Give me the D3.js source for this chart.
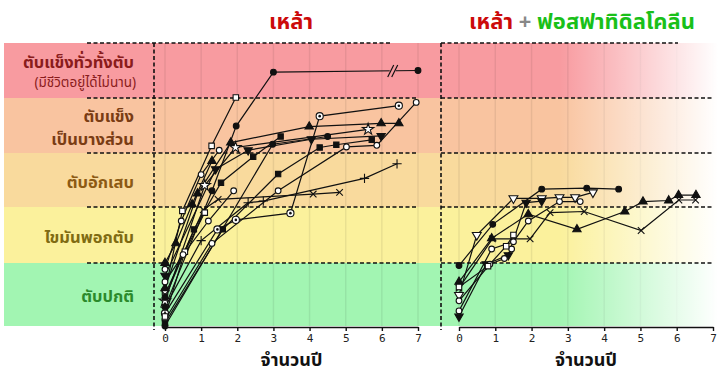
<!DOCTYPE html>
<html>
<head>
<meta charset="utf-8">
<script src="https://cdn.jsdelivr.net/npm/d3@7"></script>
<style>
  body { margin: 0; background: #fff; }
  svg { display: block; font-family: "Noto Sans Thai", "Noto Sans Thai Looped", "Sarabun", "Loma", "Garuda", "Noto Sans", sans-serif; }
</style>
</head>
<body>
<svg id="chart" width="720" height="376"></svg>
<script>
// stages, bottom to top
const stageLines = [["ตับปกติ"], ["ไขมันพอกตับ"], ["ตับอักเสบ"], ["ตับแข็ง", "เป็นบางส่วน"], ["ตับแข็งทั่วทั้งตับ"]];
const stageNotes = ["", "", "", "", "(มีชีวิตอยู่ได้ไม่นาน)"];
const stageColors = ["#a2f5b2", "#fbf19c", "#f9da9d", "#f9c4a0", "#f89ba0"];
const labelColors = ["#2b8a2b", "#7f6b12", "#8c5a14", "#7a3c14", "#8a1c1c"];
const years = [0, 1, 2, 3, 4, 5, 6, 7];

const titleLeft = "เหล้า";
const titleRight = ["เหล้า", " + ", "ฟอสฟาทิดิลโคลีน"];
const xTitle = "จำนวนปี";

// [year, stage level] — left: alcohol only
const l1 = [[0, 0.3], [1.3, 2.3], [1.97, 3.49], [3.0, 4.47], [7.0, 4.5]];
const l2 = [[0, 0.55], [0.48, 1.93], [1.29, 3.13], [1.96, 4.01]];
const l3 = [[0, 0.2], [1.45, 1.6], [1.96, 1.77], [3.47, 1.89], [4.28, 3.67], [6.47, 3.86]];
const l4 = [[0, 0.1], [1.3, 1.35], [3.13, 2.3], [5.02, 3.11], [5.86, 3.14], [6.95, 3.92]];
const l5 = [[0, 0.6], [0.9, 2.25], [1.82, 3.19], [3.99, 3.48], [5.98, 3.54], [6.47, 3.54]];
const l6 = [[0, 0.4], [1.1, 2.4], [1.95, 3.1], [5.62, 3.43]];
const l7 = [[0, 0.8], [1.4, 2.7], [2.3, 3.05], [4.05, 3.25], [5.98, 3.31]];
const l8 = [[0, 0.05], [1.6, 1.6], [3.13, 2.61], [4.28, 3.1], [4.74, 3.15], [5.72, 3.24]];
const l9 = [[0, 0.5], [1.06, 1.95], [1.47, 2.14], [4.1, 2.24], [4.83, 2.27]];
const l10 = [[0, 0.3], [1.0, 1.4], [2.3, 2.08], [2.72, 2.11], [5.52, 2.53], [6.42, 2.8]];
const l11 = [[0, 0], [2.98, 3.16], [4.5, 3.3]];
const l12 = [[0, 0.9], [0.45, 1.75], [1.0, 2.6], [1.5, 3.05]];
const l13 = [[0, 0.45], [0.8, 1.6], [1.55, 2.45], [2.44, 2.93], [3.2, 3.3]];
const l14 = [[0, 0.15], [0.55, 1.2], [1.1, 1.9]];
const l15 = [[0, 1.0], [0.3, 1.35], [0.75, 2.05], [1.3, 2.85]];
const l16 = [[0, 0.7], [0.5, 1.15], [1.2, 1.75], [1.9, 2.3]];
const breakPoint = [6.3, 4.49];

// right: alcohol + phosphatidylcholine
const r1 = [[0, 0.96], [0.93, 1.69], [2.28, 2.33], [3.52, 2.35], [4.4, 2.33]];
const r2 = [[0, 0.49], [0.49, 1.5], [1.5, 2.16], [2.28, 2.16], [2.77, 2.18], [3.2, 2.18], [3.69, 2.27]];
const r3 = [[0, 0.7], [0.9, 1.44], [1.91, 1.87], [3.25, 1.6], [4.57, 1.92], [5.07, 2.1], [5.78, 2.12], [6.05, 2.22], [6.53, 2.22]];
const r4 = [[0, 0.6], [0.92, 1.43], [1.96, 1.43], [2.51, 1.9], [3.45, 1.92], [5.02, 1.58], [6.06, 2.13], [6.52, 2.13]];
const r5 = [[0, 0.24], [0.9, 1.25], [1.5, 1.38], [1.91, 1.75], [2.77, 2.1], [3.34, 2.1]];
const r6 = [[0, 0.15], [0.75, 0.98], [1.36, 1.14], [1.85, 2.08], [2.28, 2.11]];
const r7 = [[0, 0.4], [0.85, 0.98], [1.25, 1.08], [1.45, 1.25]];
const r8 = [[0, 0.62], [0.8, 0.95], [1.3, 1.3], [1.5, 1.5]];

const leftSeries = [
  { data: l1, mark: "dot" }, { data: l2, mark: "square" }, { data: l3, mark: "target" },
  { data: l4, mark: "circle" }, { data: l5, mark: "triUp" }, { data: l6, mark: "star" },
  { data: l7, mark: "triDown" }, { data: l8, mark: "squareFill" }, { data: l9, mark: "times" },
  { data: l10, mark: "plus" }, { data: l11, mark: "dot" }, { data: l12, mark: "circle" },
  { data: l13, mark: "squareFill" }, { data: l14, mark: "square" }, { data: l15, mark: "triUp" },
  { data: l16, mark: "circle" }
];
const rightSeries = [
  { data: r1, mark: "dot" }, { data: r2, mark: "triDownOpen" }, { data: r3, mark: "triUp" },
  { data: r4, mark: "times" }, { data: r5, mark: "circle" }, { data: r6, mark: "triDown" },
  { data: r7, mark: "circle" }, { data: r8, mark: "square" }
];

const svg = d3.select("#chart");
const W = 720;

const y = d3.scaleLinear().domain([0, 1, 2, 3, 4, 5]).range([326, 263, 207, 153, 98, 43]);
const xL = d3.scaleLinear().domain([0, 7]).range([165, 418]);
const xR = d3.scaleLinear().domain([0, 7]).range([459, 713]);

const panelL = { x0: 4, x1: 441, vx: 154, dash0: 87, dash1: 418, dashTop: 390, x: xL };
const panelR = { x0: 441, x1: W, vx: 441, dash0: 441, dash1: 714, dashTop: 678, x: xR };

// fade for the right panel
const defs = svg.append("defs");
const grad = defs.append("linearGradient").attr("id", "fade")
  .attr("gradientUnits", "userSpaceOnUse")
  .attr("x1", 560).attr("x2", 718).attr("y1", 0).attr("y2", 0);
grad.append("stop").attr("offset", 0).attr("stop-color", "#fff").attr("stop-opacity", 0);
grad.append("stop").attr("offset", 1).attr("stop-color", "#fff").attr("stop-opacity", 1);

function drawPanel(p) {
  const g = svg.append("g");
  g.selectAll("rect.band")
    .data(stageColors)
    .enter().append("rect")
    .attr("class", "band")
    .attr("x", p.x0)
    .attr("width", p.x1 - p.x0)
    .attr("y", (d, i) => y(i + 1))
    .attr("height", (d, i) => y(i) - y(i + 1))
    .attr("fill", d => d);

  // faint year grid
  g.selectAll("line.grid")
    .data(years)
    .enter().append("line")
    .attr("x1", d => p.x(d)).attr("x2", d => p.x(d))
    .attr("y1", y(5)).attr("y2", y(0))
    .attr("stroke", "#000").attr("stroke-opacity", 0.07).attr("stroke-width", 1.5);
  return g;
}

function drawDashes(p) {
  const g = svg.append("g")
    .attr("stroke", "#111").attr("stroke-width", 1.6).attr("stroke-dasharray", "4,2.5");
  g.selectAll("line.h")
    .data([1, 2, 3, 4, 5])
    .enter().append("line")
    .attr("x1", p.dash0)
    .attr("x2", d => d === 5 ? p.dashTop : p.dash1)
    .attr("y1", d => y(d)).attr("y2", d => y(d));
  g.append("line")
    .attr("x1", p.vx).attr("x2", p.vx)
    .attr("y1", y(5)).attr("y2", y(0) + 4);
}

function drawAxis(p) {
  const ax = svg.append("g")
    .attr("transform", `translate(0, ${y(0) + 1})`)
    .call(d3.axisBottom(p.x).tickValues(years).tickSize(4).tickSizeOuter(0).tickFormat(d3.format("d")));
  ax.select(".domain").attr("stroke", "#111").attr("stroke-width", 1.6);
  ax.selectAll(".tick line").attr("stroke", "#111").attr("stroke-width", 1.4);
  ax.selectAll(".tick text")
    .attr("font-family", "'DejaVu Sans Mono', monospace")
    .attr("font-size", 11).attr("fill", "#222");

  const mid = (p.x.range()[0] + p.x.range()[1]) / 2;
  svg.append("text")
    .attr("x", mid).attr("y", 360)
    .attr("text-anchor", "middle").attr("dominant-baseline", "central")
    .attr("font-size", 18).attr("font-weight", "bold").attr("fill", "#111")
    .text(xTitle);
}

const symbols = {
  dot: { type: d3.symbolCircle, size: 26, fill: "#111" },
  circle: { type: d3.symbolCircle, size: 26, fill: "#fff" },
  target: { type: d3.symbolCircle, size: 40, fill: "#fff" },
  square: { type: d3.symbolSquare, size: 30, fill: "#fff" },
  squareFill: { type: d3.symbolSquare, size: 28, fill: "#111" },
  triUp: { type: d3.symbolTriangle, size: 30, fill: "#111" },
  triDown: { type: d3.symbolTriangle, size: 30, fill: "#111", rot: 180 },
  triDownOpen: { type: d3.symbolTriangle, size: 34, fill: "#fff", rot: 180 },
  star: { type: d3.symbolStar, size: 40, fill: "#fff" },
  times: { type: d3.symbolTimes || d3.symbolCross, size: 30, fill: "none" },
  plus: { type: d3.symbolPlus || d3.symbolCross, size: 30, fill: "none" }
};

function drawSeries(p, series) {
  const line = d3.line().x(d => p.x(d[0])).y(d => y(d[1]));
  const g = svg.append("g");
  g.selectAll("path.series")
    .data(series)
    .enter().append("path")
    .attr("class", "series")
    .attr("d", d => line(d.data))
    .attr("fill", "none").attr("stroke", "#111").attr("stroke-width", 1.2);

  series.forEach(s => {
    const sym = symbols[s.mark];
    const pts = g.selectAll(null)
      .data(s.data)
      .enter().append("g")
      .attr("transform", d => `translate(${p.x(d[0])}, ${y(d[1])}) rotate(${sym.rot || 0})`);
    pts.append("path")
      .attr("d", d3.symbol().type(sym.type).size(sym.size))
      .attr("fill", sym.fill)
      .attr("stroke", "#111").attr("stroke-width", 1.1);
    if (s.mark === "target") {
      pts.append("circle").attr("r", 1.3).attr("fill", "#111");
    }
  });
}

// left panel
drawPanel(panelL);
drawDashes(panelL);
drawAxis(panelL);
drawSeries(panelL, leftSeries);

// "//" break on the top series
const bx = xL(breakPoint[0]), by = y(breakPoint[1]);
svg.append("rect").attr("x", bx - 3).attr("y", by - 2).attr("width", 6).attr("height", 4).attr("fill", stageColors[4]);
svg.selectAll("line.brk")
  .data([-2, 2])
  .enter().append("line")
  .attr("x1", d => bx + d - 3).attr("x2", d => bx + d + 3)
  .attr("y1", by + 6).attr("y2", by - 6)
  .attr("stroke", "#111").attr("stroke-width", 1.2);

// right panel
drawPanel(panelR);
svg.append("rect")
  .attr("x", panelR.x0).attr("width", panelR.x1 - panelR.x0)
  .attr("y", y(5)).attr("height", y(0) - y(5))
  .attr("fill", "url(#fade)");
drawDashes(panelR);
drawAxis(panelR);
drawSeries(panelR, rightSeries);

// stage labels
const labels = svg.append("g").attr("text-anchor", "end").attr("font-weight", "bold");
stageLines.forEach((lines, i) => {
  const yc = (y(i) + y(i + 1)) / 2 + 2;
  const rows = lines.length + (stageNotes[i] ? 1 : 0);
  const step = lines.length > 1 ? 23 : 21;
  const top = yc - (rows - 1) * step / 2;
  lines.forEach((t, j) => {
    labels.append("text")
      .attr("x", 134).attr("y", top + j * step)
      .attr("dominant-baseline", "central")
      .attr("font-size", 16.5).attr("fill", labelColors[i])
      .text(t);
  });
  if (stageNotes[i]) {
    labels.append("text")
      .attr("x", 136).attr("y", top + lines.length * step)
      .attr("dominant-baseline", "central")
      .attr("font-size", 13.5).attr("font-weight", "normal").attr("fill", labelColors[i])
      .text(stageNotes[i]);
  }
});

// titles
svg.append("text")
  .attr("x", 291).attr("y", 22)
  .attr("text-anchor", "middle").attr("dominant-baseline", "central")
  .attr("font-size", 22).attr("font-weight", "bold").attr("fill", "#cc0a0a")
  .text(titleLeft);

const tr = svg.append("text")
  .attr("x", 582).attr("y", 22)
  .attr("text-anchor", "middle").attr("dominant-baseline", "central")
  .attr("font-size", 22).attr("font-weight", "bold");
const titleColors = ["#cc0a0a", "#888", "#19c019"];
titleRight.forEach((t, i) => {
  tr.append("tspan").attr("fill", titleColors[i]).text(t);
});
</script>
</body>
</html>
